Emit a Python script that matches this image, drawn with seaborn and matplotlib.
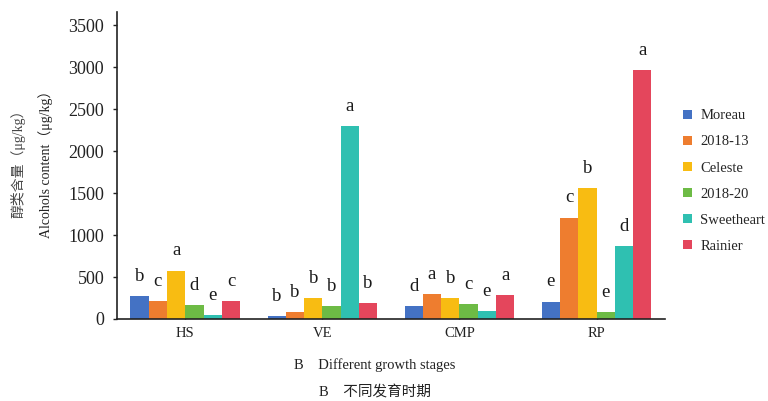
import pandas as pd
import matplotlib
matplotlib.use('Agg')
import matplotlib.pyplot as plt
import seaborn as sns

# growth stages and cultivars
stages = ['HS', 'VE', 'CMP', 'RP']
cultivars = ['Moreau', '2018-13', 'Celeste', '2018-20', 'Sweetheart', 'Rainier']

# alcohols content (ug/kg), one list per cultivar, in stage order
moreau = [272, 38, 152, 208]
c2018_13 = [212, 78, 296, 1210]
celeste = [578, 250, 250, 1565]
c2018_20 = [168, 154, 182, 88]
sweetheart = [52, 2300, 90, 865]
rainier = [218, 190, 290, 2965]

# significance letters, one list per cultivar, in stage order
letters = {
    'Moreau': ['b', 'b', 'd', 'e'],
    '2018-13': ['c', 'b', 'a', 'c'],
    'Celeste': ['a', 'b', 'b', 'b'],
    '2018-20': ['d', 'b', 'c', 'e'],
    'Sweetheart': ['e', 'a', 'e', 'd'],
    'Rainier': ['c', 'b', 'a', 'a'],
}

colors = ['#4472C4', '#EE7D2F', '#F8BC12', '#6DBB45', '#2FC0B1', '#E4465C']

values = [moreau, c2018_13, celeste, c2018_20, sweetheart, rainier]
rows = []
for name, vals in zip(cultivars, values):
    for st, v in zip(stages, vals):
        rows.append({'stage': st, 'cultivar': name, 'value': v})
df = pd.DataFrame(rows)

sns.set_style('white')
plt.rcParams['font.family'] = ['Liberation Serif', 'Noto Sans CJK SC']

fig = plt.figure(figsize=(7.68, 4.01), dpi=100)
ax = fig.add_axes([0.152, 0.2045, 0.714, 0.7655])

sns.barplot(data=df, x='stage', y='value', hue='cultivar', order=stages,
            hue_order=cultivars, palette=colors, width=0.8, saturation=1,
            linewidth=0, ax=ax, legend=True)

# letters over the bars
for cont, name in zip(ax.containers, cultivars):
    ax.bar_label(cont, labels=letters[name], padding=8, fontsize=13.5,
                 color='#1a1a1a')

ax.set_ylim(0, 3660)
ax.set_yticks(range(0, 3501, 500))
ax.set_xlim(-0.5, 3.5)
ax.set_xlabel('')
ax.set_ylabel('')
sns.despine(ax=ax)
for s in ['left', 'bottom']:
    ax.spines[s].set_color('#222222')
    ax.spines[s].set_linewidth(1.2)
ax.tick_params(axis='y', direction='out', length=3, width=1, labelsize=13,
               left=True, colors='#222222', pad=6)
ax.tick_params(axis='x', direction='in', length=4, width=1, labelsize=10.5,
               bottom=True, colors='#222222', pad=6)

leg = ax.legend(loc='upper left', bbox_to_anchor=(0.872, 0.76),
                bbox_transform=fig.transFigure, frameon=False, fontsize=10.5,
                handlelength=0.6, handleheight=0.6, handletextpad=0.6,
                labelspacing=0.9)

fig.text(0.023, 0.6, '醇类含量（μg/kg）', rotation=90, ha='center', va='center',
         fontsize=10, color='#444444')
fig.text(0.059, 0.6, 'Alcohols content（μg/kg）', rotation=90, ha='center',
         va='center', fontsize=10, color='#222222')
fig.text(0.488, 0.09, 'B    Different growth stages', ha='center', va='center',
         fontsize=10.5, color='#222222')
fig.text(0.488, 0.022, 'B    不同发育时期', ha='center', va='center',
         fontsize=10.5, color='#222222')

fig.savefig('out.png', dpi=100)
